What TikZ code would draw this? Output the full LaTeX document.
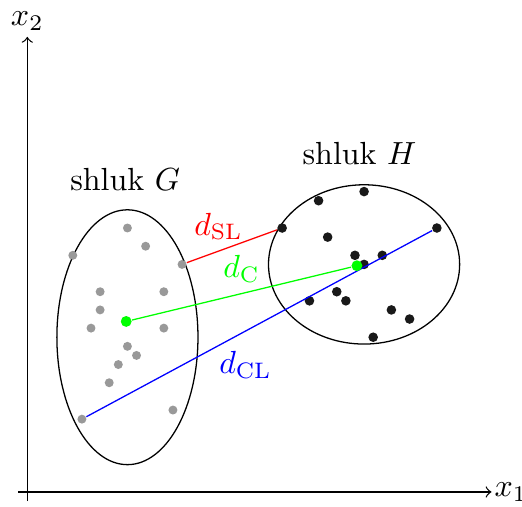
\documentclass[tikz,border=0pt]{standalone}
\usepackage{amsmath}
\usetikzlibrary{positioning}

\begin{document}
\begin{tikzpicture}[x=0.5cm, y=0.5cm,
          gdot/.style={circle, fill=black!40, inner sep=0pt, minimum size=2.8pt},
          hdot/.style={circle, fill=black!90, inner sep=0pt, minimum size=3pt},
          cdot/.style={circle, fill=green, inner sep=0pt, minimum size=3.4pt}]
          \useasboundingbox (-0.6,-0.31) rectangle (10.87,10.81);
          % osy
          \coordinate (xs) at (-0.2,0);
          \coordinate (xe) at (10.2,0);
          \coordinate (ys) at (0,-0.2);
          \coordinate (ye) at (0,10);
          \draw[->] (xs) -- (xe);
          \draw[->] (ys) -- (ye);
          \node[anchor=west, inner sep=0.8pt] (x1) at (xe) {$x_1$};
          \node[above, yshift=-1.5pt] (x2) at (ye) {$x_2$};
          % shluky
          \draw (2.2,3.4) ellipse [x radius=1.55, y radius=2.8];
          \draw (7.4,5.0) ellipse [x radius=2.1, y radius=1.75];
          \node (lG) at (2.15,6.86) {shluk $G$};
          \node (lH) at (7.3,7.44) {shluk $H$};
          \foreach \p [count=\i] in {(2.2,5.8), (2.6,5.4), (1.0,5.2), (3.4,5.0), (1.6,4.4), (3.0,4.4), (1.6,4.0), (1.4,3.6),
                                     (3.0,3.6), (2.2,3.2), (2.4,3.0), (2.0,2.8), (1.8,2.4), (3.2,1.8), (1.2,1.6)}
            \node[gdot] (g\i) at \p {};
          \foreach \p [count=\i] in {(7.4,6.6), (6.4,6.4), (5.6,5.8), (9.0,5.8), (6.6,5.6), (7.2,5.2), (7.8,5.2),
                                     (7.4,5.0), (6.8,4.4), (6.2,4.2), (7.0,4.2), (8.0,4.0), (8.4,3.8), (7.6,3.4)}
            \node[hdot] (h\i) at \p {};
          % vzdalenosti
          \draw[red] (g4) -- node[pos=0.35, above] (dSL) {$d_{\mathrm{SL}}$} (h3);
          \draw[blue] (g15) -- node[pos=0.46, below=2.7pt] (dCL) {$d_{\mathrm{CL}}$} (h4);
          \node[cdot] (cG) at (2.173,3.747) {};
          \node[cdot] (cH) at (7.243,4.971) {};
          \draw[green] (cG) -- node[above] (dC) {$d_{\mathrm{C}}$} (cH);
        \end{tikzpicture}
\end{document}
